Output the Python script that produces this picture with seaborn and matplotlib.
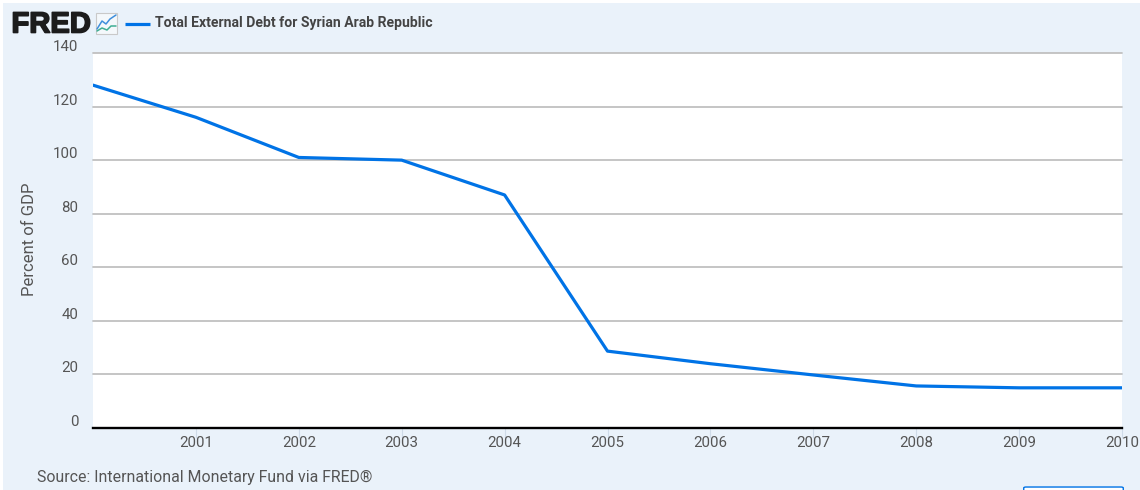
import matplotlib
matplotlib.use("Agg")
import matplotlib.pyplot as plt
import matplotlib.patheffects as pe
from matplotlib.lines import Line2D
from matplotlib.patches import Rectangle, FancyBboxPatch
from matplotlib.transforms import ScaledTranslation
import seaborn as sns
import pandas as pd

years = [2000, 2001, 2002, 2003, 2004, 2005, 2006, 2007, 2008, 2009, 2010]
debt = [128, 116, 101, 100, 87, 28.7, 24, 19.8, 15.7, 15, 15]
y_ticks = [0, 20, 40, 60, 80, 100, 120, 140]
x_ticks = [2001, 2002, 2003, 2004, 2005, 2006, 2007, 2008, 2009, 2010]
series_name = "Total External Debt for Syrian Arab Republic"
y_label = "Percent of GDP"
source = "Source: International Monetary Fund via FRED®"

W, H = 1140, 490
BG = "#eaf2fa"
BLUE = "#0073e6"
TXT = "#555555"

sns.set_theme(style="white")
plt.rcParams["font.family"] = ["Roboto", "DejaVu Sans"]

fig = plt.figure(figsize=(W / 100, H / 100), dpi=100, facecolor="white")
fig.add_artist(Rectangle((3 / W, 0), 1, 1 - 3 / H, transform=fig.transFigure, fc=BG, ec="none", zorder=-5))

def fx(p): return p / W
def fy(p): return 1 - p / H

ax = fig.add_axes([fx(93), fy(428), (1122 - 93) / W, (428 - 53) / H], facecolor="white")
df = pd.DataFrame({"year": years, "debt": debt})
sns.lineplot(data=df, x="year", y="debt", ax=ax, color=BLUE, linewidth=2.3, clip_on=True, zorder=3)
ax.set_xlim(2000, 2010)
ax.set_ylim(0, 140)
ax.set_yticks(y_ticks)
ax.set_xticks(x_ticks)
ax.set_xticklabels([str(v) for v in x_ticks])
ax.grid(axis="y", color="#c0c0c0", linewidth=1.3, clip_on=False)
ax.set_axisbelow(True)
for s in ["left", "right", "top"]:
    ax.spines[s].set_visible(False)
ax.spines["bottom"].set_color("black")
ax.spines["bottom"].set_linewidth(1.7)
ax.spines["bottom"].set_zorder(5)
ax.tick_params(axis="x", length=7, width=0.8, color="#cfdbe8", pad=-1, labelsize=10.8, labelcolor=TXT, bottom=True)
ax.tick_params(axis="y", length=0, labelsize=10.8, labelcolor=TXT, pad=10.5)
shift = ScaledTranslation(0, -1 / 100, fig.dpi_scale_trans)
for lab in ax.get_yticklabels():
    lab.set_verticalalignment("bottom")
    lab.set_transform(lab.get_transform() + shift)
ax.set_xlabel("")
ax.set_ylabel("")
fig.text(fx(30), fy(239), y_label, rotation=90, ha="center", va="center", fontsize=12, color=TXT)
fig.text(fx(37), fy(477), source, ha="left", va="center", fontsize=11.45, color=TXT)

# Header
fig.text(fx(11.5), fy(24.5), "FRED", ha="left", va="center", fontsize=21, fontweight="bold",
         family="Liberation Sans", color="#1c1c1c",
         path_effects=[pe.withStroke(linewidth=1.2, foreground="#1c1c1c")])
fig.add_artist(Rectangle((fx(96), fy(34)), 21 / W, 21 / H, transform=fig.transFigure,
                         fc="#f4f8fb", ec="#c9c9c9", lw=0.8))
fig.add_artist(Line2D([fx(97), fx(102), fx(106), fx(110), fx(116)],
                      [fy(29), fy(21), fy(24), fy(19), fy(15)], color="#3f8fdc", lw=1.1))
fig.add_artist(Line2D([fx(97), fx(102), fx(107), fx(111), fx(116)],
                      [fy(31), fy(28), fy(30), fy(26), fy(26)], color="#3fae94", lw=1.1))
fig.add_artist(Line2D([fx(125), fx(150)], [fy(24.5), fy(24.5)], color=BLUE, lw=2.3, solid_capstyle="butt"))
fig.text(fx(155), fy(23.5), series_name, ha="left", va="center", fontsize=10.05, fontweight="bold", color="#444444")

# Edge of the button cut off at the bottom
fig.add_artist(FancyBboxPatch((fx(1026), fy(505)), 95 / W, 17 / H, boxstyle="round,pad=0.002",
                              transform=fig.transFigure, fc="white", ec=BLUE, lw=1))

fig.savefig("out.png", dpi=100, facecolor=fig.get_facecolor())
